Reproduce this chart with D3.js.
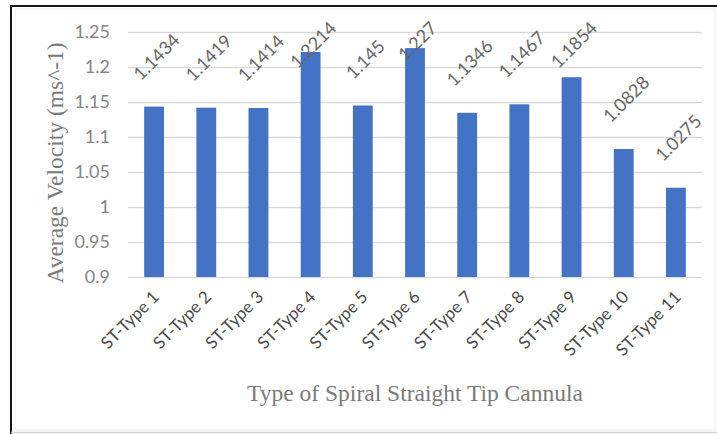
<!DOCTYPE html>
<html>
<head>
<meta charset="utf-8">
<script src="https://cdn.jsdelivr.net/npm/d3@7"></script>
<style>
  html, body { margin: 0; padding: 0; background: #fff; }
  svg { display: block; }
</style>
</head>
<body>
<svg id="chart" width="717" height="434"></svg>
<script>
// Average velocity per spiral straight-tip cannula type
const categories = ["ST-Type 1", "ST-Type 2", "ST-Type 3", "ST-Type 4", "ST-Type 5", "ST-Type 6",
                    "ST-Type 7", "ST-Type 8", "ST-Type 9", "ST-Type 10", "ST-Type 11"];
const velocities = [1.1434, 1.1419, 1.1414, 1.2214, 1.145, 1.227, 1.1346, 1.1467, 1.1854, 1.0828, 1.0275];
const valueLabels = ["1.1434", "1.1419", "1.1414", "1.2214", "1.145", "1.227", "1.1346", "1.1467", "1.1854", "1.0828", "1.0275"];
const yTicks = [0.9, 0.95, 1, 1.05, 1.1, 1.15, 1.2, 1.25];
const yTickLabels = ["0.9", "0.95", "1", "1.05", "1.1", "1.15", "1.2", "1.25"];
const yTitle = "Average Velocity (ms^-1)";
const xTitle = "Type of Spiral Straight Tip Cannula";

const svg = d3.select("#chart");
const plot = { left: 128, right: 702, top: 32, bottom: 277 };

const x = d3.scaleBand().domain(categories).range([plot.left, plot.right]).paddingInner(0.62).paddingOuter(0.31);
const y = d3.scaleLinear().domain([0.9, 1.25]).range([plot.bottom, plot.top]);

// frame
svg.append("rect").attr("x", 15).attr("y", 9).attr("width", 700).attr("height", 421)
  .attr("fill", "none").attr("stroke", "#ececec").attr("stroke-width", 1);
svg.append("line").attr("x1", 10).attr("x2", 717).attr("y1", 6).attr("y2", 6)
  .attr("stroke", "#151515").attr("stroke-width", 2);
svg.append("line").attr("x1", 11).attr("x2", 11).attr("y1", 5).attr("y2", 434)
  .attr("stroke", "#151515").attr("stroke-width", 2);
svg.append("line").attr("x1", 11).attr("x2", 717).attr("y1", 432.5).attr("y2", 432.5)
  .attr("stroke", "#d4d4d4").attr("stroke-width", 1.5);

// gridlines + y tick labels
const yAxis = d3.axisLeft(y).tickValues(yTicks)
  .tickFormat((d, i) => yTickLabels[i])
  .tickSize(-(plot.right - plot.left)).tickPadding(18);
const gy = svg.append("g").attr("transform", `translate(${plot.left},0)`).call(yAxis);
gy.select(".domain").remove();
gy.selectAll(".tick line").attr("stroke", "#d9d9d9").attr("stroke-width", 1.5);
gy.selectAll(".tick text").attr("fill", "#858585")
  .style("font-family", "Lato, 'Open Sans', sans-serif").style("font-size", "18px");

// bars
svg.append("g").selectAll("rect").data(velocities).join("rect")
  .attr("x", (d, i) => x(categories[i]))
  .attr("width", x.bandwidth())
  .attr("y", d => y(d))
  .attr("height", d => y(0.9) - y(d))
  .attr("fill", "#4472c4");

// rotated value labels above bars, kept below the top of the chart
const labelFont = 18;
const lbl = svg.append("g").selectAll("text").data(velocities).join("text")
  .text((d, i) => valueLabels[i])
  .attr("fill", "#666")
  .style("font-family", "Lato, 'Open Sans', sans-serif").style("font-size", labelFont + "px")
  .attr("text-anchor", "middle").attr("dominant-baseline", "central");
lbl.each(function (d, i) {
  const w = this.getComputedTextLength();
  const h = (w + labelFont) * Math.SQRT1_2 / 2;
  const cx = x(categories[i]) + x.bandwidth() / 2 + 2;
  const cy = Math.max(y(d) - 24 - h, 18 + h);
  d3.select(this).attr("transform", `translate(${cx},${cy}) rotate(-45)`);
});

// category labels
svg.append("g").selectAll("text").data(categories).join("text")
  .text(d => d)
  .attr("fill", "#4a4a4a")
  .style("font-family", "Lato, 'Open Sans', sans-serif").style("font-size", "17px")
  .attr("text-anchor", "end")
  .attr("transform", d => `translate(${x(d) + x.bandwidth() / 2 + 6},${plot.bottom + 21}) rotate(-45)`);

// axis titles
svg.append("text").text(yTitle)
  .attr("fill", "#7a7a7a")
  .style("font-family", "'Liberation Serif', 'Times New Roman', serif").style("font-size", "23.5px")
  .attr("text-anchor", "middle")
  .attr("transform", `translate(63,163) rotate(-90)`);
svg.append("text").text(xTitle)
  .attr("fill", "#7a7a7a")
  .style("font-family", "'Liberation Serif', 'Times New Roman', serif").style("font-size", "23.5px")
  .attr("text-anchor", "middle")
  .attr("x", 415).attr("y", 401);
</script>
</body>
</html>
